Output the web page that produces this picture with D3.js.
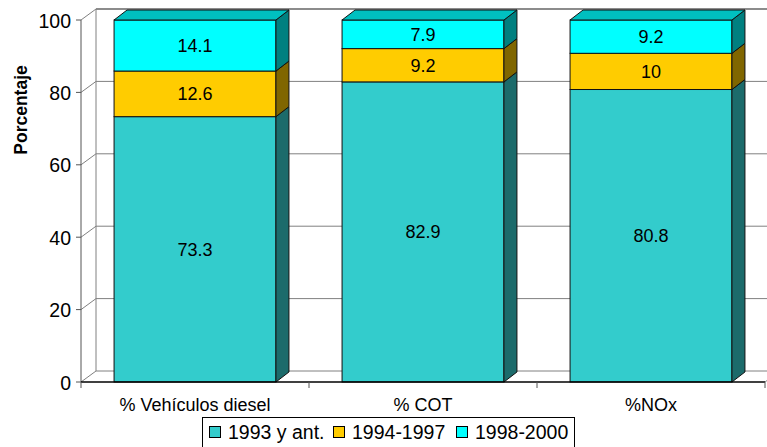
<!DOCTYPE html>
<html><head><meta charset="utf-8">
<script src="https://cdn.jsdelivr.net/npm/d3@7"></script>
<style>body{margin:0;background:#fff}svg{display:block}text{font-family:"Liberation Sans",Arial,sans-serif}</style>
</head><body><svg id="c" width="767" height="447"></svg>
<script>
const categories = ["% Vehículos diesel", "% COT", "%NOx"];
const seriesNames = ["1993 y ant.", "1994-1997", "1998-2000"];
const s1993 = [73.3, 82.9, 80.8];
const s1994 = [12.6, 9.2, 10];
const s1998 = [14.1, 7.9, 9.2];
const yTicks = [0, 20, 40, 60, 80, 100];

const front = ["#33CCCC", "#FFCC00", "#00FFFF"];
const side = ["#1C6B6B", "#806600", "#008080"];
const topC = ["#29A3A3", "#CCA300", "#00C0C0"];

const svg = d3.select("#c");
const x0 = 81, x1 = 765, yTop = 20, yBot = 382;
const dx = 15, dy = -11;   // wall depth
const bdx = 13, bdy = -10; // bar depth
const x = d3.scaleBand().domain(categories).range([x0, x1]).paddingInner(0.29).paddingOuter(0.145);
const xb = d3.scaleBand().domain(categories).range([x0, x1]);
const y = d3.scaleLinear().domain([0, 100]).range([yBot, yTop]);
const grid = "#808080";

const g = svg.append("g");
yTicks.forEach(t => {
  g.append("line").attr("x1", x0 + dx).attr("x2", 767).attr("y1", y(t) + dy).attr("y2", y(t) + dy)
    .attr("stroke", t === 100 ? "#666" : grid).attr("stroke-width", t === 100 ? 1.5 : 1);
  g.append("line").attr("x1", x0).attr("x2", x0 + dx).attr("y1", y(t)).attr("y2", y(t) + dy)
    .attr("stroke", grid);
});
g.append("line").attr("x1", x0 + dx).attr("x2", x0 + dx).attr("y1", y(100) + dy).attr("y2", y(0) + dy).attr("stroke", grid);
g.append("line").attr("x1", x1).attr("x2", x1 + dx).attr("y1", yBot).attr("y2", yBot + dy).attr("stroke", grid);

const stacks = categories.map((c, i) => {
  const vals = [s1993[i], s1994[i], s1998[i]];
  let acc = 0;
  return vals.map((v, k) => { const o = {c, k, v, y0: acc, y1: acc + v}; acc += v; return o; });
});
stacks.forEach(st => {
  const bx = x(st[0].c), bw = x.bandwidth();
  const bg = svg.append("g");
  st.forEach(s => {
    const ya = y(s.y1), yb = y(s.y0);
    bg.append("rect").attr("x", bx).attr("y", ya).attr("width", bw).attr("height", yb - ya)
      .attr("fill", front[s.k]).attr("stroke", "#111").attr("stroke-width", 1);
    bg.append("polygon").attr("points", [[bx + bw, ya], [bx + bw + bdx, ya + bdy], [bx + bw + bdx, yb + bdy], [bx + bw, yb]].join(" "))
      .attr("fill", side[s.k]).attr("stroke", "#111").attr("stroke-width", 1);
  });
  const last = st[st.length - 1], yt = y(last.y1);
  bg.append("polygon").attr("points", [[bx, yt], [bx + bdx, yt + bdy], [bx + bw + bdx, yt + bdy], [bx + bw, yt]].join(" "))
    .attr("fill", topC[last.k]).attr("stroke", "#111").attr("stroke-width", 1);
  st.forEach(s => {
    bg.append("text").attr("x", bx + bw / 2).attr("y", (y(s.y0) + y(s.y1)) / 2 + 6.5)
      .attr("text-anchor", "middle").attr("font-size", 18).attr("fill", "#000").text(s.v);
  });
});

svg.append("line").attr("x1", x0).attr("x2", x0).attr("y1", yTop).attr("y2", yBot).attr("stroke", "#555");
svg.append("line").attr("x1", x0).attr("x2", x1).attr("y1", yBot).attr("y2", yBot).attr("stroke", "#000").attr("stroke-width", 1.5);
yTicks.forEach(t => {
  svg.append("line").attr("x1", x0 - 5).attr("x2", x0).attr("y1", y(t)).attr("y2", y(t)).attr("stroke", "#555");
  svg.append("text").attr("x", x0 - 10).attr("y", y(t) + 7.5).attr("text-anchor", "end").attr("font-size", 19.5).text(t);
});
[x0, ...categories.map(c => xb(c) + xb.bandwidth())].forEach(px => {
  svg.append("line").attr("x1", px).attr("x2", px).attr("y1", yBot).attr("y2", yBot + 6).attr("stroke", "#555");
});
categories.forEach(c => {
  svg.append("text").attr("x", xb(c) + xb.bandwidth() / 2).attr("y", 411).attr("text-anchor", "middle")
    .attr("font-size", 18).text(c);
});
svg.append("text").attr("transform", "translate(27,110) rotate(-90)").attr("text-anchor", "middle")
  .attr("font-size", 17.5).attr("font-weight", "bold").text("Porcentaje");

const lg = svg.append("g");
lg.append("rect").attr("x", 202.5).attr("y", 417.5).attr("width", 372).attr("height", 40).attr("fill", "#fff").attr("stroke", "#000");
const lx = [209, 333, 456];
seriesNames.forEach((n, i) => {
  lg.append("rect").attr("x", lx[i] + 0.5).attr("y", 426.5).attr("width", 11).attr("height", 11).attr("fill", front[i]).attr("stroke", "#000");
  lg.append("text").attr("x", lx[i] + 19).attr("y", 439).attr("font-size", 19.5).text(n);
});
</script></body></html>
